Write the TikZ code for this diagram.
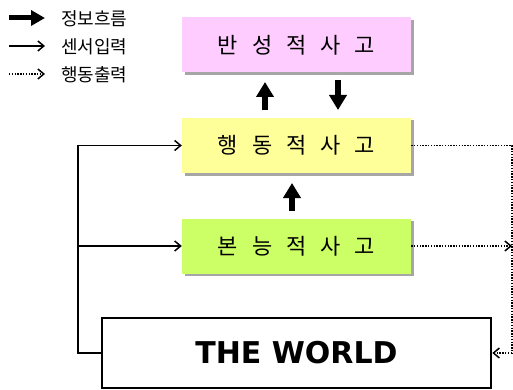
\documentclass[tikz,border=0pt]{standalone}
\usepackage{fontspec}
\setmainfont{DejaVu Sans}
\newfontfamily\kor{Noto Sans CJK KR}
\usetikzlibrary{arrows.meta,shadows}
\definecolor{boxpink}{RGB}{255,204,255}
\definecolor{boxyellow}{RGB}{255,255,153}
\definecolor{boxgreen}{RGB}{204,255,102}
\newcommand\kgap{\hspace{14pt}}
\tikzset{
	think/.style={minimum width=229pt,minimum height=55pt,inner sep=0pt,font=\kor\fontsize{22}{22}\selectfont,
		drop shadow={shadow xshift=2.5pt,shadow yshift=-2.5pt,fill=black!35,opacity=1}},
	world/.style={draw,line width=2.5pt,minimum width=389pt,minimum height=70pt,inner sep=0pt,font=\bfseries\fontsize{30}{30}\selectfont},
	legend/.style={anchor=west,inner sep=0pt,font=\kor\fontsize{18}{18}\selectfont},
	flow/.style={line width=6pt,-{Triangle[width=17pt,length=15pt]}},
	sensor/.style={line width=1.5pt,-{Straight Barb[width=10pt,length=6pt,line width=1.5pt]}},
	act/.style={line width=1.8pt,dash pattern=on 1.4pt off 1.4pt,-{Straight Barb[width=10pt,length=6pt,line width=1.5pt]}},
	actline/.style={line width=1.8pt,dash pattern=on 1.4pt off 1.4pt}
}
\begin{document}
\begin{tikzpicture}[x=1pt,y=-1pt]
	\useasboundingbox (0,0) rectangle (513,390);
	%%%legend
	\coordinate (f1) at (9,18);
	\coordinate (f2) at (45,18);
	\coordinate (s1) at (9,46);
	\coordinate (s2) at (45,46);
	\coordinate (a1) at (9,74);
	\coordinate (a2) at (45,74);
	\draw[flow,line width=5pt,-{Triangle[width=15pt,length=14pt]}] (f1) -- (f2);
	\draw[sensor] (s1) -- (s2);
	\draw[act] (a1) -- (a2);
	\node[legend] (lf) at (61,19) {정보흐름};
	\node[legend] (ls) at (61,47) {센서입력};
	\node[legend] (la) at (61,75) {행동출력};
	%%%boxes
	\node[think,fill=boxpink] (refl) at (296.5,45) {반\kgap 성\kgap 적\kgap 사\kgap 고};
	\node[think,fill=boxyellow] (beh) at (296.5,145.5) {행\kgap 동\kgap 적\kgap 사\kgap 고};
	\node[think,fill=boxgreen] (inst) at (296.5,246) {본\kgap 능\kgap 적\kgap 사\kgap 고};
	\node[world,fill=white] (wld) at (296.5,353) {THE WORLD};
	%%%information flow
	\draw[flow] (265,110) -- (265,82);
	\draw[flow] (338,80) -- (338,110);
	\draw[flow] (292,211) -- (292,183);
	%%%sensor input
	\coordinate (lb) at (78,353);
	\coordinate (lt) at (78,145.5);
	\coordinate (lm) at (78,246);
	\draw[line width=1.5pt] (wld.west) -- (lb) -- (lt);
	\draw[sensor] (lt) -- (beh.west);
	\draw[sensor] (lm) -- (inst.west);
	%%%action output
	\coordinate (rt) at (512,145.5);
	\coordinate (rm) at (512,246);
	\coordinate (rb) at (512,353);
	\draw[actline] (beh.east) -- (rt) -- (rb);
	\draw[act] (inst.east) -- (rm);
	\draw[act] (rb) -- (wld.east);
\end{tikzpicture}
\end{document}
